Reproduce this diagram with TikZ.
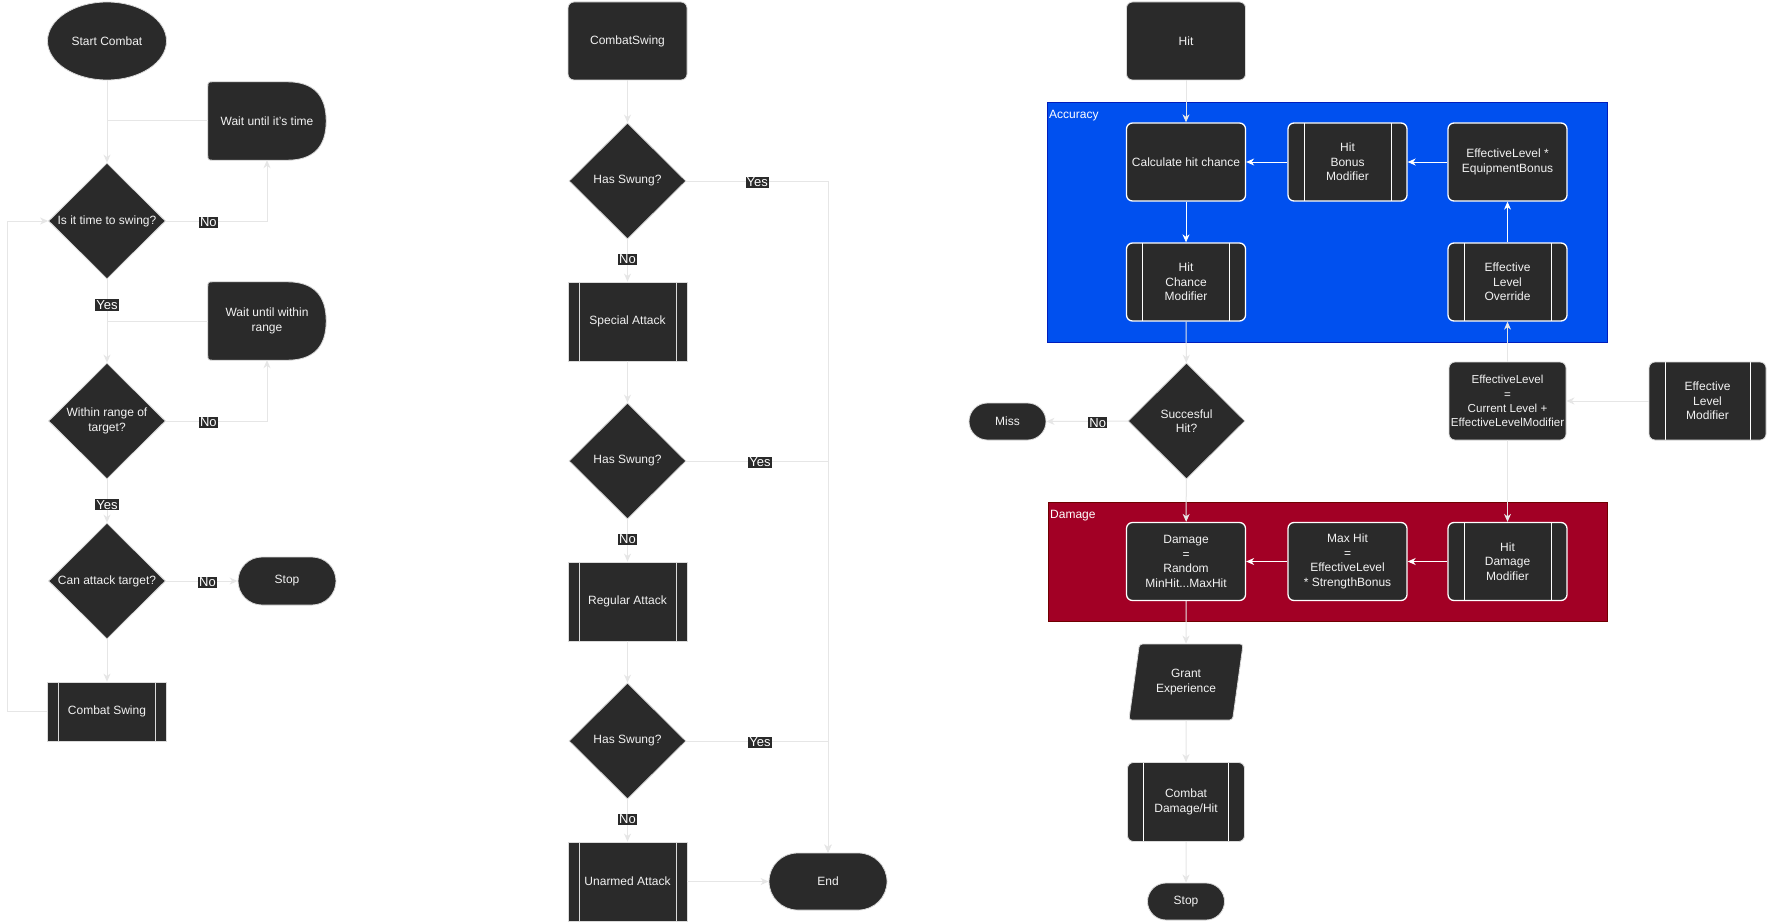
\documentclass[tikz,border=0pt]{standalone}
\usepackage{fontspec}
\setmainfont{Liberation Sans}
\usetikzlibrary{shapes.geometric,shapes.misc,arrows.meta,calc}
\definecolor{nodefill}{HTML}{2A2A2A}
\definecolor{nodeborder}{HTML}{DADADA}
\definecolor{edgegrey}{HTML}{E6E6E6}
\definecolor{txtcol}{HTML}{F2F2F2}
\definecolor{accblue}{HTML}{0050EF}
\definecolor{accstroke}{HTML}{001DBC}
\definecolor{dmgred}{HTML}{A20025}
\definecolor{dmgstroke}{HTML}{6F0000}
\pgfdeclarelayer{back}
\pgfdeclarelayer{shapes}
\pgfsetlayers{back,shapes,main}
\tikzset{
  base/.style={fill=nodefill, draw=nodeborder, line width=0.8pt, text=txtcol,
    font=\fontsize{12}{14.5}\selectfont, align=center, inner sep=0pt},
  procbox/.style={base, rectangle, rounded corners=6pt, minimum width=119pt, minimum height=78pt},
  procw/.style={procbox, draw=white, line width=1.3pt},
  termbox/.style={base, rounded rectangle},
  decision/.style={base, diamond, aspect=1, minimum width=117pt, minimum height=116pt},
  predef/.style={base, rectangle, minimum width=119pt, minimum height=79pt,
    path picture={\draw[nodeborder, line width=0.8pt]
      ([xshift=11pt]path picture bounding box.north west) -- ([xshift=11pt]path picture bounding box.south west)
      ([xshift=-11pt]path picture bounding box.north east) -- ([xshift=-11pt]path picture bounding box.south east);}},
  predefr/.style={base, rectangle, rounded corners=6pt, draw=white, line width=1.3pt,
    minimum width=119pt, minimum height=78pt,
    path picture={\draw[white, line width=1pt]
      ([xshift=16pt]path picture bounding box.north west) -- ([xshift=16pt]path picture bounding box.south west)
      ([xshift=-16pt]path picture bounding box.north east) -- ([xshift=-16pt]path picture bounding box.south east);}},
  ghost/.style={text=txtcol, font=\fontsize{12}{14.5}\selectfont, align=center, inner sep=0pt},
  conn/.style={draw=edgegrey, line width=1pt, -{Stealth[length=8pt,width=7pt,inset=2.5pt]}},
  plain/.style={draw=edgegrey, line width=1pt},
  wconn/.style={conn, draw=white},
  lab/.style={fill=nodefill, text=white, inner sep=1pt, yshift=-1.5pt, font=\fontsize{13}{14}\selectfont},
  grp/.style={anchor=north west, inner sep=0pt, line width=1pt},
  grplab/.style={anchor=west, text=white, inner sep=0pt, font=\fontsize{12}{14}\selectfont},
}
\begin{document}
\begin{tikzpicture}[x=1pt,y=-1pt]
\begin{pgfonlayer}{back}
\fill[white] (0,0) rectangle (1768,923);
\end{pgfonlayer}
\useasboundingbox (0,0) rectangle (1768,923);

% ---------- groups ----------
\node[grp, draw=accstroke, fill=accblue, minimum width=560pt, minimum height=240pt] (acc) at (1047,102) {};
\node[grplab] (acclab) at (1049,116) {Accuracy};
\node[grp, draw=dmgstroke, fill=dmgred, minimum width=559pt, minimum height=119pt] (dmg) at (1048,502) {};
\node[grplab] (dmglab) at (1050,516) {Damage};

% ---------- column 1 ----------
\node[base, ellipse, minimum width=119pt, minimum height=78pt] (sc) at (107,41) {Start Combat};
\node[ghost, minimum width=118pt, minimum height=78pt] (w1) at (267,121) {Wait until it's time};
\node[decision] (d1) at (107,221) {Is it time to swing?};
\node[ghost, minimum width=118pt, minimum height=78pt] (w2) at (267,321) {Wait until within\\range};
\node[decision] (d2) at (107,421) {Within range of\\target?};
\node[decision] (d3) at (107,581) {Can attack target?};
\node[termbox, minimum width=98pt, minimum height=48pt] (stopa) at (287,581) {Stop};
\node[predef, minimum height=59pt] (cs) at (107,711.5) {Combat Swing};

\begin{pgfonlayer}{shapes}
\foreach \n in {w1,w2}{
  \path[fill=nodefill, draw=nodeborder, line width=0.8pt]
    (\n.west) -- ($(\n.north west)+(0,6)$) .. controls (\n.north west) .. ($(\n.north west)+(6,0)$)
    -- ($(\n.north east)+(-39,0)$)
    .. controls ($(\n.north east)+(-13,0)$) and ($(\n.east)+(0,-26)$) .. (\n.east)
    .. controls ($(\n.east)+(0,26)$) and ($(\n.south east)+(-13,0)$) .. ($(\n.south east)+(-39,0)$)
    -- ($(\n.south west)+(6,0)$) .. controls (\n.south west) .. ($(\n.south west)+(0,-6)$) -- cycle;
}
\end{pgfonlayer}

% ---------- column 2 ----------
\node[procbox] (cs2) at (627.5,41) {CombatSwing};
\node[decision] (hs1) at (627.5,181) {Has Swung?};
\node[predef] (sa) at (627.5,321.5) {Special Attack};
\node[decision] (hs2) at (627.5,461) {Has Swung?};
\node[predef] (ra) at (627.5,601.5) {Regular Attack};
\node[decision] (hs3) at (627.5,741) {Has Swung?};
\node[predef] (ua) at (627.5,881.5) {Unarmed Attack};
\node[termbox, minimum width=118pt, minimum height=57pt] (endn) at (828,881.5) {End};

% ---------- column 3 ----------
\node[procbox] (hit) at (1186,41) {Hit};
\node[procw] (calc) at (1186,162) {Calculate hit chance};
\node[predefr] (hbm) at (1347.5,162) {Hit\\Bonus\\Modifier};
\node[procw] (eeb) at (1507.5,162) {EffectiveLevel *\\EquipmentBonus};
\node[predefr] (hcm) at (1186,282) {Hit\\Chance\\Modifier};
\node[predefr] (elo) at (1507.5,282) {Effective\\Level\\Override};
\node[decision] (sh) at (1186.5,421) {Succesful\\Hit?};
\node[termbox, minimum width=77pt, minimum height=37pt] (miss) at (1007.5,421.5) {Miss};
\node[procbox, minimum width=117pt, font=\fontsize{11.6}{14.3}\selectfont] (el) at (1507.5,401)
  {EffectiveLevel\\=\\Current Level +\\EffectiveLevelModifier};
\node[predefr, draw=nodeborder, line width=0.8pt, minimum width=117pt] (elm) at (1707.5,401) {Effective\\Level\\Modifier};
\node[procw] (dr) at (1186,561.5) {Damage\\=\\Random\\MinHit...MaxHit};
\node[procw] (mh) at (1347.5,561.5) {Max Hit\\=\\EffectiveLevel\\* StrengthBonus};
\node[predefr] (hdm) at (1507.5,561.5) {Hit\\Damage\\Modifier};
\node[base, trapezium, trapezium left angle=75, trapezium right angle=105, trapezium stretches=true,
  minimum width=115pt, minimum height=76pt, rounded corners=3pt] (ge) at (1186,682) {Grant\\Experience};
\node[predefr, draw=nodeborder, line width=0.8pt, minimum width=117pt, minimum height=79pt] (cdh) at (1186,802) {Combat\\Damage/Hit};
\node[termbox, minimum width=77pt, minimum height=37pt] (stopb) at (1186,901.5) {Stop};

% ---------- column 1 edges ----------
\draw[conn] (sc) -- (d1);
\draw[plain] (w1.west) -- (w1.west -| sc.south);
\draw[conn] (d1.east) -| node[lab, pos=0.21] (n1) {No} (w1.south);
\draw[conn] (d1) -- node[lab, pos=0.29] (y1) {Yes} (d2);
\draw[plain] (w2.west) -- (w2.west -| d2.north);
\draw[conn] (d2.east) -| node[lab, pos=0.21] (n2) {No} (w2.south);
\draw[conn] (d2) -- node[lab, pos=0.55] (y2) {Yes} (d3);
\draw[conn] (d3) -- node[lab, pos=0.58] (n3) {No} (stopa);
\draw[conn] (d3) -- (cs);
\coordinate (lp) at (7,711.5);
\draw[conn] (cs.west) -- (lp) |- (d1.west);

% ---------- column 2 edges ----------
\draw[conn] (cs2) -- (hs1);
\draw[conn] (hs1) -- node[lab, pos=0.44] (n4) {No} (sa);
\draw[conn] (sa) -- (hs2);
\draw[conn] (hs2) -- node[lab, pos=0.44] (n5) {No} (ra);
\draw[conn] (ra) -- (hs3);
\draw[conn] (hs3) -- node[lab, pos=0.44] (n6) {No} (ua);
\draw[conn] (ua) -- (endn);
\draw[conn] (hs1.east) -| node[lab, pos=0.25] (y4) {Yes} (endn.north);
\draw[conn] (hs2.east) -| node[lab, pos=0.26] (y5) {Yes} (endn.north);
\draw[conn] (hs3.east) -| node[lab, pos=0.26] (y6) {Yes} (endn.north);

% ---------- column 3 edges ----------
\draw[conn] (hit) -- (calc);
\draw[wconn] (hbm) -- (calc);
\draw[wconn] (eeb) -- (hbm);
\draw[wconn] (elo) -- (eeb);
\draw[wconn] (calc) -- (hcm);
\draw[conn] (hcm) -- (sh);
\draw[conn] (sh) -- node[lab, pos=0.37] (n7) {No} (miss);
\draw[conn] (sh) -- (dr);
\draw[conn] (el) -- (elo);
\draw[conn] (el) -- (hdm);
\draw[conn] (elm) -- (el);
\draw[wconn] (hdm) -- (mh);
\draw[wconn] (mh) -- (dr);
\draw[conn] (dr) -- (ge);
\draw[conn] (ge) -- (cdh);
\draw[conn] (cdh) -- (stopb);
\end{tikzpicture}
\end{document}
